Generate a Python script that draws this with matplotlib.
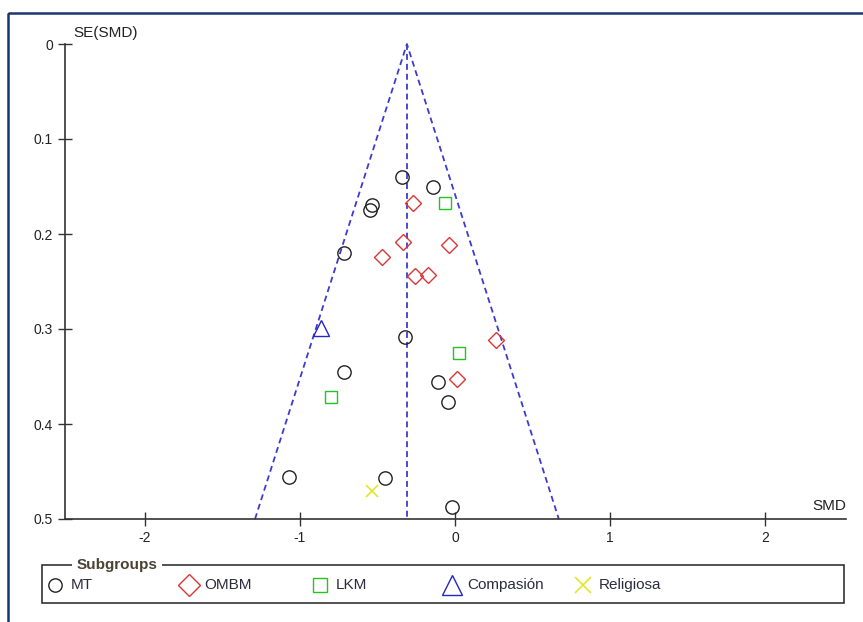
import matplotlib
matplotlib.use("Agg")
import matplotlib.pyplot as plt
from matplotlib.patches import Rectangle

plt.rcParams['font.family'] = ['Liberation Sans', 'DejaVu Sans']

# ---- data ----
pooled_smd = -0.31
se_max = 0.5

mt_smd = [-0.344, -0.140, -0.534, -0.548, -0.714, -0.323, -0.714, -0.112, -0.047, -1.071, -0.452, -0.021]
mt_se = [0.140, 0.150, 0.169, 0.175, 0.220, 0.308, 0.345, 0.356, 0.377, 0.456, 0.457, 0.487]

ombm_smd = [-0.273, -0.337, -0.041, -0.471, -0.256, -0.176, 0.265, 0.011]
ombm_se = [0.167, 0.208, 0.212, 0.224, 0.244, 0.243, 0.312, 0.353]

lkm_smd = [-0.063, 0.028, -0.802]
lkm_se = [0.167, 0.325, 0.372]

comp_smd = [-0.866]
comp_se = [0.299]

relig_smd = [-0.537]
relig_se = [0.471]

xticks = [-2, -1, 0, 1, 2]
yticks = [0, 0.1, 0.2, 0.3, 0.4, 0.5]
ytick_labels = ['0', '0.1', '0.2', '0.3', '0.4', '0.5']
legend_labels = ["MT", "OMBM", "LKM", "Compasión", "Religiosa"]

# ---- figure ----
W, H = 863, 622
DPI = 100
fig = plt.figure(figsize=(W / DPI, H / DPI), dpi=DPI)
fig.patch.set_facecolor('white')

def fx(px):
    return px / W

def fy(py):
    return 1 - py / H

ax_l, ax_r, ax_t, ax_b = 65, 846, 44, 519
ax = fig.add_axes([fx(ax_l), fy(ax_b), fx(ax_r - ax_l), (ax_b - ax_t) / H])
ax.set_xlim(-2.516, 2.523)
ax.set_ylim(0.5, 0)

axis_col = '#333333'
for s in ['top', 'right']:
    ax.spines[s].set_visible(False)
for s in ['left', 'bottom']:
    ax.spines[s].set_color(axis_col)
    ax.spines[s].set_linewidth(1.2)

ax.set_xticks(xticks)
ax.set_xticklabels([str(t) for t in xticks])
ax.set_yticks(yticks)
ax.set_yticklabels(ytick_labels)
ax.tick_params(direction='inout', length=9.5, width=1.0, color=axis_col,
               labelsize=10, labelcolor='#222222', pad=4)

funnel_col = '#3b3bd0'
dash = (0, (3.3, 2.2))
ax.plot([pooled_smd - 1.96 * se_max, pooled_smd, pooled_smd + 1.96 * se_max],
        [se_max, 0, se_max], color=funnel_col, lw=1.3, linestyle=dash, clip_on=False)
ax.plot([pooled_smd, pooled_smd], [0, se_max], color=funnel_col, lw=1.3,
        linestyle=dash, clip_on=False)

lw = 1.0
c_mt, c_om, c_lk, c_co, c_re = '#222222', '#dd3535', '#22c422', '#2424c8', '#e4e42a'
st = dict(linestyle='none', markerfacecolor='none', markeredgewidth=lw, clip_on=False)
ax.plot(mt_smd, mt_se, marker='o', markersize=9.6, markeredgecolor=c_mt, **st)
ax.plot(ombm_smd, ombm_se, marker='D', markersize=8.0, markeredgecolor=c_om, **st)
ax.plot(lkm_smd, lkm_se, marker='s', markersize=8.4, markeredgecolor=c_lk, **st)
ax.plot(comp_smd, comp_se, marker='^', markersize=11.5, markeredgecolor=c_co, **st)
ax.plot(relig_smd, relig_se, marker='x', markersize=9.0, markeredgecolor=c_re,
        linestyle='none', markeredgewidth=1.2, clip_on=False)

# axis titles
fig.text(fx(73), fy(33), 'SE(SMD)', fontsize=11, color='#222222', ha='left', va='center')
fig.text(fx(846), fy(506), 'SMD', fontsize=11, color='#222222', ha='right', va='center')

# ---- overlay for frame & legend (pixel coords) ----
ov = fig.add_axes([0, 0, 1, 1], zorder=5)
ov.set_xlim(0, W)
ov.set_ylim(H, 0)
ov.axis('off')
ov.patch.set_alpha(0)

ov.add_patch(Rectangle((8, 13), 1000, 800, fill=False, edgecolor='#1c3575',
                       linewidth=1.8, clip_on=True))

ov.add_patch(Rectangle((42, 565), 802, 38, fill=False, edgecolor='#222222',
                       linewidth=1.1))
ov.text(117, 565, 'Subgroups', fontsize=11, fontweight='bold', color='#4a4232',
        ha='center', va='center',
        bbox=dict(facecolor='white', edgecolor='none', pad=3))

leg_y = 585
marker_x = [55, 189, 320, 452, 583]
text_x = [71, 204, 336, 467, 599]
markers = ['o', 'D', 's', '^', 'x']
colors = [c_mt, c_om, c_lk, c_co, c_re]
sizes = [9.6, 11.0, 10.5, 14.0, 12.0]
for mx, tx, m, c, sz, lab in zip(marker_x, text_x, markers, colors, sizes, legend_labels):
    ov.plot([mx], [leg_y], marker=m, markersize=sz, markerfacecolor='none',
            markeredgecolor=c, markeredgewidth=1.2 if m == 'x' else lw, linestyle='none')
    ov.text(tx, leg_y, lab, fontsize=11, color='#2c2c40', ha='left', va='center')

fig.savefig('out.png', dpi=DPI, facecolor='white')
